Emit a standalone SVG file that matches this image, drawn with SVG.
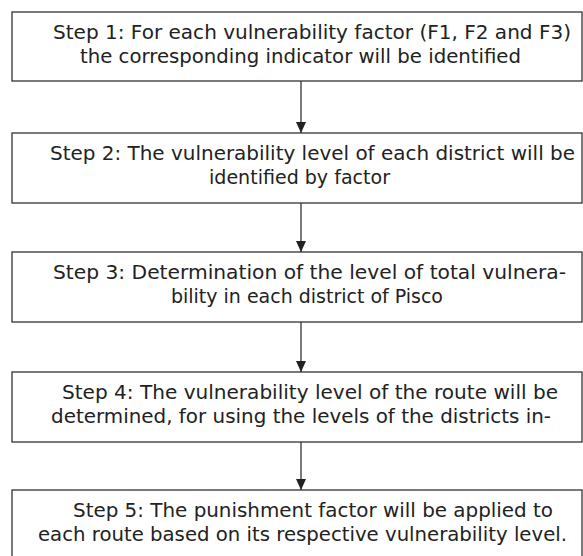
<svg xmlns="http://www.w3.org/2000/svg" width="583" height="556" viewBox="0 0 583 556">
<style>
  .box { fill: #ffffff; stroke: #333333; stroke-width: 1.3; }
  .t { font-family: "DejaVu Sans", Verdana, sans-serif; font-size: 20px; fill: #222222; }
  .c { stroke: #333333; stroke-width: 1.3; fill: none; }
</style>
<defs>
  <marker id="ah2" markerWidth="11" markerHeight="10" refX="11" refY="5" orient="auto" markerUnits="userSpaceOnUse" viewBox="0 0 11 10">
    <path d="M0,0 L11,5 L0,10 Z" fill="#222222"/>
  </marker>
</defs>
<rect width="583" height="556" fill="#ffffff"/>
<g id="step1">
  <rect class="box" x="12" y="12" width="570" height="69"/>
  <text class="t" x="53" y="39" textLength="518" lengthAdjust="spacingAndGlyphs">Step 1: For each vulnerability factor (F1, F2 and F3)</text>
  <text class="t" x="80" y="63" textLength="441" lengthAdjust="spacingAndGlyphs">the corresponding indicator will be identified</text>
</g>
<g id="step2">
  <rect class="box" x="12" y="133" width="570" height="70"/>
  <text class="t" x="50" y="160" textLength="525" lengthAdjust="spacingAndGlyphs">Step 2: The vulnerability level of each district will be</text>
  <text class="t" x="209" y="184" textLength="181" lengthAdjust="spacingAndGlyphs">identified by factor</text>
</g>
<g id="step3">
  <rect class="box" x="12" y="252" width="570" height="70"/>
  <text class="t" x="53" y="279" textLength="513" lengthAdjust="spacingAndGlyphs">Step 3: Determination of the level of total vulnera-</text>
  <text class="t" x="171" y="303" textLength="272" lengthAdjust="spacingAndGlyphs">bility in each district of Pisco</text>
</g>
<g id="step4">
  <rect class="box" x="12" y="372" width="570" height="70"/>
  <text class="t" x="62" y="399" textLength="496" lengthAdjust="spacingAndGlyphs">Step 4: The vulnerability level of the route will be</text>
  <text class="t" x="51" y="423" textLength="500" lengthAdjust="spacingAndGlyphs">determined, for using the levels of the districts in-</text>
</g>
<g id="step5">
  <rect class="box" x="12" y="490" width="570" height="80"/>
  <text class="t" x="73" y="517" textLength="480" lengthAdjust="spacingAndGlyphs">Step 5: The punishment factor will be applied to</text>
  <text class="t" x="38" y="541" textLength="529" lengthAdjust="spacingAndGlyphs">each route based on its respective vulnerability level.</text>
</g>
<g id="connectors">
  <line class="c" x1="301" y1="81" x2="301" y2="133" marker-end="url(#ah2)"/>
  <line class="c" x1="301" y1="203" x2="301" y2="252" marker-end="url(#ah2)"/>
  <line class="c" x1="301" y1="322" x2="301" y2="372" marker-end="url(#ah2)"/>
  <line class="c" x1="301" y1="442" x2="301" y2="490" marker-end="url(#ah2)"/>
</g>
</svg>
